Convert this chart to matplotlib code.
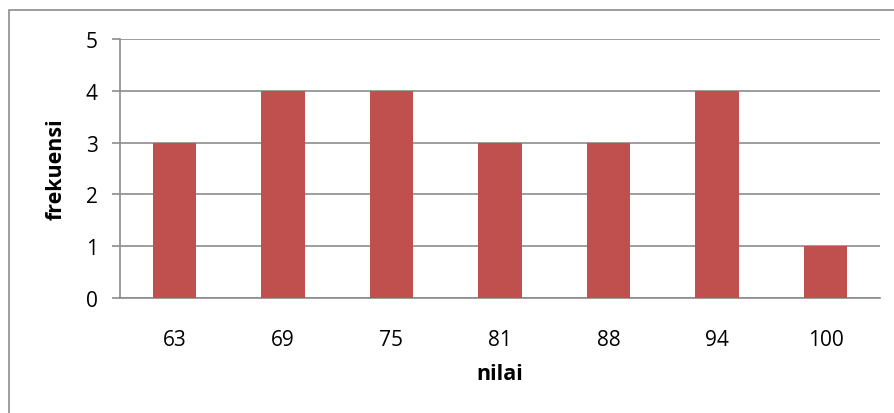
import numpy as np
import matplotlib.pyplot as plt
from matplotlib.patches import Rectangle

nilai = ['63', '69', '75', '81', '88', '94', '100']
frekuensi = [3, 4, 4, 3, 3, 4, 1]

plt.rcParams['font.family'] = ['Open Sans', 'DejaVu Sans']

W, H = 895, 414
fig = plt.figure(figsize=(W / 100, H / 100), dpi=100)

# bingkai luar grafik (sisi kanan dan bawah terpotong)
fig.patches.append(Rectangle((8.5 / W, -10 / H), 900 / W, (H - 10.5 + 10) / H,
                             transform=fig.transFigure, fill=False,
                             edgecolor='#8c8c8c', linewidth=1.2))

ax = fig.add_axes([120 / W, (H - 299) / H, 760 / W, (299 - 40) / H])
x = np.arange(len(nilai))
ax.bar(x, frekuensi, width=0.4, color='#C0504D', zorder=3)

ax.set_xlim(-0.5, len(nilai) - 0.5)
ax.set_ylim(0, 5)
ax.set_yticks(range(6))
ax.set_xticks(x)
ax.set_xticklabels(nilai)
ax.yaxis.grid(True, color='#8c8c8c', linewidth=1.2)
ax.set_axisbelow(True)

for s in ['top', 'right']:
    ax.spines[s].set_visible(False)
for s in ['left', 'bottom']:
    ax.spines[s].set_color('#8c8c8c')
    ax.spines[s].set_linewidth(1.2)

ax.tick_params(axis='y', length=6, width=1.2, color='#8c8c8c', labelsize=15, pad=10)
ax.tick_params(axis='x', length=0, labelsize=15, pad=22)

ax.set_xlabel('nilai', fontsize=15.5, fontweight='bold', labelpad=10)
ax.set_ylabel('frekuensi', fontsize=15.5, fontweight='bold', labelpad=14)

fig.savefig('out.png', dpi=100)
